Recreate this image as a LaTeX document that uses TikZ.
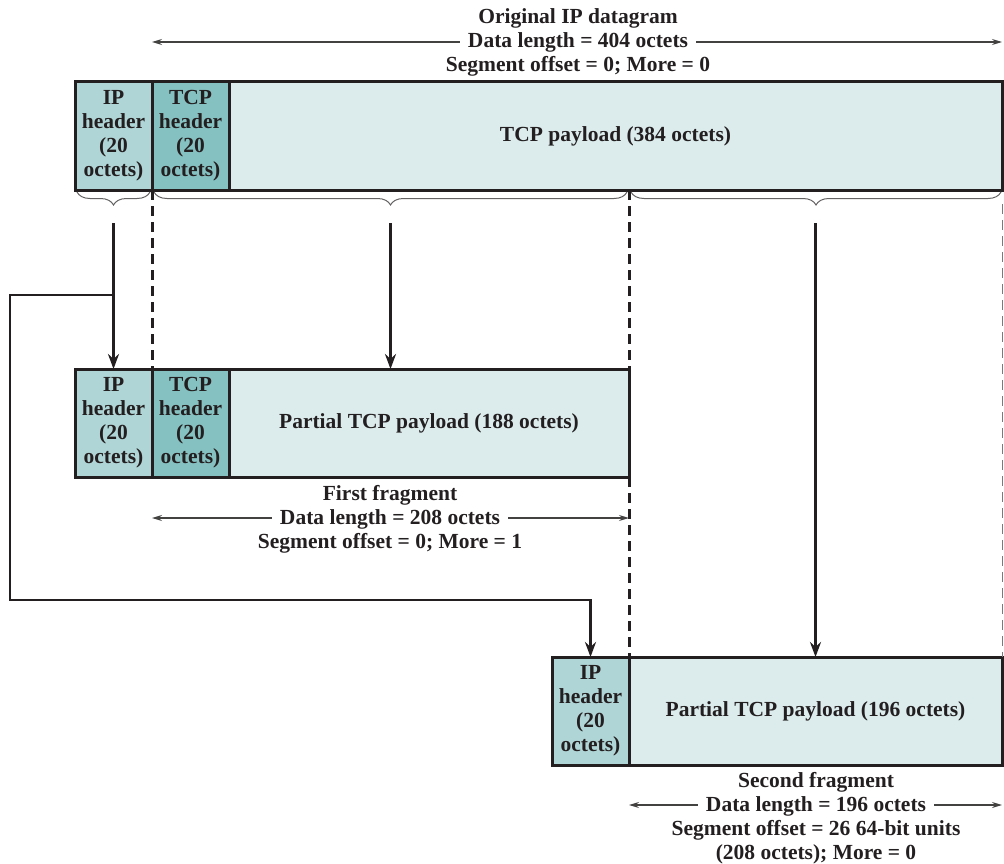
\documentclass[tikz,border=0pt]{standalone}
\usepackage{fontspec}
\setmainfont{Liberation Serif}
\usepackage{tikz}
\usetikzlibrary{arrows.meta,positioning,calc,decorations.pathreplacing}
\definecolor{iphdrcolor}{RGB}{176,213,214}
\definecolor{tcphdrcolor}{RGB}{134,193,193}
\definecolor{payloadcolor}{RGB}{220,236,237}
\definecolor{inkcolor}{RGB}{35,31,32}

\begin{document}
\begin{tikzpicture}[x=1pt,y=-1pt,every node/.style={font=\fontsize{21.5}{24}\selectfont\bfseries,text=inkcolor},
  field/.style={draw=inkcolor,line width=3pt,minimum height=108pt,inner sep=0pt,outer sep=0pt,align=center},
  iphdr/.style={field,fill=iphdrcolor,minimum width=77pt},
  tcphdr/.style={field,fill=tcphdrcolor,minimum width=77pt},
  payload/.style={field,fill=payloadcolor},
  lbl/.style={inner xsep=8pt,inner ysep=0pt,text height=16pt,text depth=4pt},
  arr/.style={-{Stealth[length=15pt,width=11pt]},line width=2.5pt,draw=inkcolor},
  lenarr/.style={-{Stealth[length=10pt,width=6pt]},line width=1.2pt,draw=inkcolor!85},
  dsh/.style={line width=3pt,draw=inkcolor,dash pattern=on 10pt off 6pt},
  thindsh/.style={line width=1pt,draw=inkcolor!60,dash pattern=on 10pt off 6pt},
  brc/.style={decorate,decoration={brace,mirror,amplitude=13pt},line width=1pt,draw=inkcolor!70}]
\useasboundingbox (0,0) rectangle (1004,864);
% original datagram
\node[iphdr,anchor=north west](ip0) at (75,82){IP\\header\\(20\\octets)};
\node[tcphdr,right=0pt of ip0](tcp0){TCP\\header\\(20\\octets)};
\node[payload,minimum width=773pt,right=0pt of tcp0](pay0){TCP payload (384 octets)};
\node[lbl](orgttl) at (578,18){Original IP datagram};
\node[lbl](orglen) at (578,42){Data length = 404 octets};
\node[lbl](orgseg) at (578,66){Segment offset = 0; More = 0};
\draw[lenarr](orglen.west)--(orglen.west -| tcp0.west); \draw[lenarr](orglen.east)--(orglen.east -| pay0.east);
% first fragment
\node[iphdr,anchor=north west](ip1) at (75,369){IP\\header\\(20\\octets)};
\node[tcphdr,right=0pt of ip1](tcp1){TCP\\header\\(20\\octets)};
\node[payload,minimum width=400pt,right=0pt of tcp1](pay1){Partial TCP payload (188 octets)};
\node[lbl](f1ttl) at (390,494){First fragment};
\node[lbl](f1len) at (390,518){Data length = 208 octets};
\node[lbl](f1seg) at (390,542){Segment offset = 0; More = 1};
\draw[lenarr](f1len.west)--(f1len.west -| tcp1.west); \draw[lenarr](f1len.east)--(f1len.east -| pay1.east);
% second fragment
\node[iphdr,anchor=north west](ip2) at (552,657){IP\\header\\(20\\octets)};
\node[payload,minimum width=373pt,right=0pt of ip2](pay2){Partial TCP payload (196 octets)};
\node[lbl](f2ttl) at (816,781){Second fragment};
\node[lbl](f2len) at (816,805){Data length = 196 octets};
\node[lbl](f2seg) at (816,829){Segment offset = 26 64-bit units};
\node[lbl](f2rst) at (816,853){(208 octets); More = 0};
\draw[lenarr](f2len.west)--(f2len.west -| pay2.west); \draw[lenarr](f2len.east)--(f2len.east -| pay2.east);
% braces and split lines
\coordinate(cut) at (pay0.south -| pay1.east);
\draw[brc]([xshift=2pt,yshift=-2pt]ip0.south west)--([xshift=-2pt,yshift=-2pt]ip0.south east);
\draw[brc]([xshift=2pt,yshift=-2pt]tcp0.south west)--([xshift=-2pt,yshift=-2pt]cut);
\draw[brc]([xshift=2pt,yshift=-2pt]cut)--([xshift=-1pt,yshift=-2pt]pay0.south east);
\draw[dsh](tcp0.south west)--(tcp1.north west); \draw[dsh](cut)--(pay1.north east);
\draw[dsh](pay1.south east)--(ip2.north east); \draw[thindsh]([yshift=-14pt]pay0.south east)--(pay2.north east);
\coordinate(top0) at ($(ip0.south)+(0,33)$);
\coordinate(top1) at ($(tcp0.south west)!0.5!(cut)+(0,33)$);
\coordinate(top2) at ($(cut)!0.5!(pay0.south east)+(0,33)$);
\coordinate(split) at ($(ip0.south)+(0,105)$);
\coordinate(lft) at (10,600);
\draw[arr](top0)--(ip1.north); \draw[arr](top1)--(top1 |- pay1.north); \draw[arr](top2)--(pay2.north);
\draw[arr](split)-|(lft)-|(ip2.north);
\end{tikzpicture}
\end{document}
